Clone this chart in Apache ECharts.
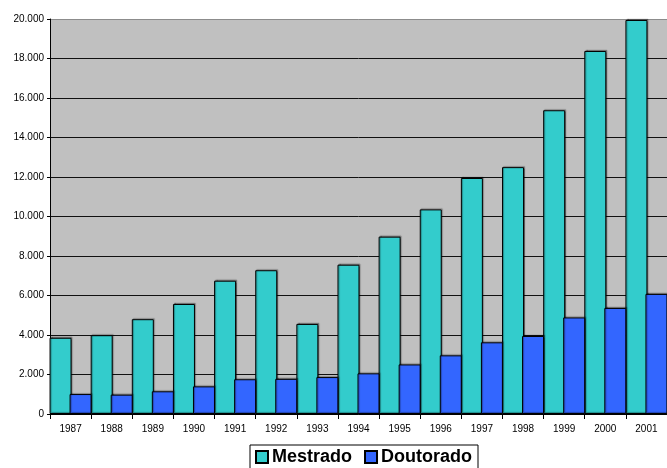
<!DOCTYPE html>
<html>
<head>
<meta charset="utf-8">
<script src="https://cdn.jsdelivr.net/npm/echarts@6/dist/echarts.min.js"></script>
<style>
  html, body { margin: 0; padding: 0; background: #fff; }
  #chart { width: 667px; height: 468px; }
</style>
</head>
<body>
<div id="chart"></div>
<script>
// Anos
const years = ['1987', '1988', '1989', '1990', '1991', '1992', '1993', '1994',
               '1995', '1996', '1997', '1998', '1999', '2000', '2001'];

// Titulados por ano
const mestrado = [3860, 3990, 4800, 5570, 6750, 7280, 4560, 7560,
                  8980, 10360, 11950, 12500, 15380, 18380, 19950];
const doutorado = [1010, 980, 1150, 1400, 1760, 1780, 1870, 2060,
                   2510, 2970, 3630, 3950, 4890, 5370, 6080];

// Eixo vertical
const yMin = 0;
const yMax = 20000;
const yStep = 2000;

const fmt = v => String(v).replace(/\B(?=(\d{3})+(?!\d))/g, '.');

const font = '"Liberation Sans", Arial, sans-serif';

const chart = echarts.init(document.getElementById('chart'), null, { renderer: 'canvas' });

// linhas de grade: pretas, a superior cinza
const splitColors = [];
for (let v = yMin; v <= yMax; v += yStep) splitColors.push(v === yMax ? '#8c8c8c' : '#111');

const barShadow = {
  shadowColor: 'rgba(0,0,0,0.35)',
  shadowOffsetX: 1,
  shadowOffsetY: -1,
  shadowBlur: 1
};

chart.setOption({
  animation: false,
  backgroundColor: '#fff',
  textStyle: { fontFamily: font },
  grid: {
    left: 50,
    top: 19,
    width: 625,
    height: 395,
    show: true,
    backgroundColor: '#c0c0c0',
    borderWidth: 0
  },
  legend: {
    left: 250,
    top: 445,
    orient: 'horizontal',
    icon: 'rect',
    itemWidth: 12,
    itemHeight: 12,
    itemGap: 12,
    padding: [3, 6, 10, 5],
    backgroundColor: '#fff',
    borderColor: '#000',
    borderWidth: 1,
    textStyle: {
      fontFamily: font,
      fontSize: 18,
      fontWeight: 'bold',
      color: '#000',
      padding: [0, 0, 0, -1]
    },
    data: ['Mestrado', 'Doutorado']
  },
  xAxis: {
    type: 'category',
    data: years,
    boundaryGap: true,
    axisLine: { show: true, lineStyle: { color: '#000', width: 1 } },
    axisTick: { show: true, alignWithLabel: false, interval: 0, length: 5, lineStyle: { color: '#000' } },
    axisLabel: { interval: 0, fontSize: 10, color: '#000', margin: 10, fontFamily: font },
    splitLine: { show: false }
  },
  yAxis: {
    type: 'value',
    min: yMin,
    max: yMax,
    interval: yStep,
    axisLine: { show: true, lineStyle: { color: '#000', width: 1 } },
    axisTick: { show: true, length: 3, lineStyle: { color: '#000' } },
    axisLabel: { fontSize: 10, color: '#000', margin: 6, fontFamily: font, formatter: fmt },
    splitLine: { show: true, lineStyle: { color: splitColors, width: 1 } }
  },
  series: [
    {
      name: 'Mestrado',
      type: 'bar',
      data: mestrado,
      barWidth: 22,
      barGap: '-9%',
      itemStyle: Object.assign({ color: '#33cccc', borderColor: '#000', borderWidth: 1 }, barShadow)
    },
    {
      name: 'Doutorado',
      type: 'bar',
      data: doutorado,
      barWidth: 22,
      barGap: '-9%',
      itemStyle: Object.assign({ color: '#3366ff', borderColor: '#000', borderWidth: 1 }, barShadow)
    }
  ]
});
</script>
</body>
</html>
